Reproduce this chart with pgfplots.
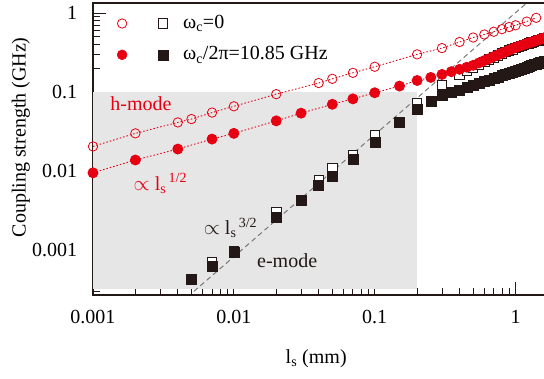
\documentclass[border=0pt]{standalone}
\usepackage{fontspec}
\setmainfont{Liberation Serif}
\usepackage{pgfplots}
\pgfplotsset{compat=1.18}
\definecolor{hred}{RGB}{230,0,18}
\definecolor{shade}{RGB}{230,230,230}
\definecolor{ink}{RGB}{35,24,21}
\definecolor{fitgray}{RGB}{120,120,120}

% h-mode, omega_c = 0
\pgfplotstableread{
x y
0.001 0.0205
0.002 0.030
0.004 0.0413
0.005 0.0455
0.007 0.055
0.01 0.066
0.02 0.094
0.04 0.130
0.05 0.147
0.07 0.175
0.1 0.209
0.2 0.300
0.3 0.360
0.4 0.430
0.5 0.490
0.6 0.535
0.7 0.580
0.8 0.625
0.9 0.665
1.0 0.700
1.2 0.780
1.4 0.870
}\hzero

% h-mode, omega_c/2pi = 10.85 GHz
\pgfplotstableread{
x y
0.001 0.0095
0.002 0.0138
0.004 0.019
0.007 0.0254
0.01 0.030
0.02 0.0432
0.03 0.054
0.05 0.070
0.07 0.082
0.1 0.098
0.15 0.119
0.2 0.140
0.25 0.153
0.3 0.167
0.35 0.181
0.4 0.194
0.45 0.206
0.5 0.218
0.55 0.234
0.6 0.250
0.65 0.265
0.7 0.281
0.75 0.295
0.8 0.310
0.85 0.325
0.9 0.339
0.95 0.353
1.0 0.367
1.05 0.378
1.1 0.389
1.15 0.399
1.2 0.410
1.25 0.420
1.3 0.429
1.35 0.439
1.4 0.449
1.45 0.459
1.5 0.468
1.55 0.477
1.6 0.487
}\hcav

% e-mode, omega_c = 0
\pgfplotstableread{
x y
0.007 0.00071
0.01 0.00097
0.02 0.0030
0.04 0.0077
0.05 0.0108
0.07 0.016
0.1 0.0286
0.2 0.073
0.3 0.123
0.4 0.164
0.45 0.184
0.5 0.203
0.55 0.222
0.6 0.240
0.65 0.258
0.7 0.275
0.75 0.291
0.8 0.307
0.85 0.321
0.9 0.335
0.95 0.348
1.0 0.360
1.05 0.372
1.1 0.383
1.15 0.394
1.2 0.404
1.25 0.414
1.3 0.424
1.35 0.433
1.4 0.442
1.45 0.451
1.5 0.459
1.55 0.467
1.6 0.475
}\ezero

% e-mode, omega_c/2pi = 10.85 GHz
\pgfplotstableread{
x y
0.005 0.00043
0.007 0.00062
0.01 0.00095
0.02 0.0026
0.03 0.0043
0.04 0.0067
0.05 0.0086
0.07 0.0141
0.1 0.0235
0.15 0.042
0.2 0.060
0.25 0.076
0.3 0.090
0.35 0.0987
0.4 0.107
0.45 0.115
0.5 0.122
0.55 0.130
0.6 0.136
0.65 0.143
0.7 0.150
0.75 0.156
0.8 0.162
0.85 0.168
0.9 0.174
0.95 0.180
1.0 0.185
1.05 0.191
1.1 0.196
1.15 0.202
1.2 0.207
1.25 0.212
1.3 0.217
1.35 0.222
1.4 0.227
1.45 0.232
1.5 0.236
1.55 0.241
1.6 0.246
}\ecav

\begin{document}
\fontsize{20}{24}\selectfont
\begin{tikzpicture}
\begin{axis}[
  at={(0,0)}, anchor=south west,
  scale only axis, width=465pt, height=292pt,
  xmode=log, ymode=log,
  xmin=0.001, xmax=2, ymin=0.00027, ymax=1.34,
  axis line style={line width=1.3pt, ink},
  xtick={0.001,0.01,0.1,1}, xticklabels={0.001,0.01,0.1,1},
  ytick={0.001,0.01,0.1,1}, yticklabels={0.001,0.01,0.1,1},
  minor xtick={0.002,0.003,0.004,0.005,0.006,0.007,0.008,0.009,
               0.02,0.03,0.04,0.05,0.06,0.07,0.08,0.09,
               0.2,0.3,0.4,0.5,0.6,0.7,0.8,0.9,2},
  minor ytick={0.0003,0.0004,0.0005,0.0006,0.0007,0.0008,0.0009,
               0.002,0.003,0.004,0.005,0.006,0.007,0.008,0.009,
               0.02,0.03,0.04,0.05,0.06,0.07,0.08,0.09,
               0.2,0.3,0.4,0.5,0.6,0.7,0.8,0.9},
  xtick pos=lower, ytick pos=left,
  tick align=inside,
  major tick length=13pt, minor tick length=7pt,
  every tick/.style={ink, line width=0.8pt},
  /pgf/number format/assume math mode=true,
  xticklabel style={yshift=-8pt},
  yticklabel style={xshift=-9pt},
  xlabel={l\textsubscript{s} (mm)},
  ylabel={Coupling strength (GHz)},
  xlabel style={at={(axis description cs:0.48,-0.219)}, anchor=center},
  ylabel style={at={(axis description cs:-0.155,0.54)}, anchor=center},
  legend columns=2,
  legend cell align=left,
  legend style={draw=none, fill=none, at={(rel axis cs:0.045,0.972)}, anchor=north west,
    row sep=11pt,
    /tikz/every odd column/.append style={column sep=13pt},
    /tikz/every even column/.append style={column sep=14pt}},
]
% shaded region
\addplot[fill=shade, draw=none, forget plot]
  coordinates {(0.001,0.00032) (0.2,0.00032) (0.2,0.1) (0.001,0.1)} -- cycle;
% l^{3/2} guide
\addplot[fitgray, line width=1pt, dash pattern=on 5pt off 3.5pt, forget plot]
  coordinates {(0.0052,0.0003) (1.2,1.34)};
% h-mode
\addplot[hred, line width=0.9pt, dash pattern=on 1.5pt off 2pt,
  mark=o, mark size=4.7pt, mark options={solid, line width=0.8pt}, forget plot]
  table {\hzero};
% e-mode
\addplot[only marks, mark=square*, mark size=4.7pt,
  mark options={draw=ink, fill=white, line width=0.9pt}, forget plot]
  table {\ezero};
\addplot[only marks, mark=square*, mark size=5pt,
  mark options={draw=ink, fill=ink}, forget plot]
  table {\ecav};
\addplot[hred, line width=0.9pt, dash pattern=on 1.5pt off 2pt,
  mark=*, mark size=5pt, mark options={solid}, forget plot]
  table {\hcav};

\addlegendimage{only marks, mark=o, hred, mark size=4.7pt, line width=0.8pt}
\addlegendentry{}
\addlegendimage{only marks, mark=square*, mark size=4.7pt, mark options={draw=ink, fill=white, line width=0.9pt}}
\addlegendentry{ω\textsubscript{c}=0}
\addlegendimage{only marks, mark=*, hred, mark size=5pt}
\addlegendentry{}
\addlegendimage{only marks, mark=square*, mark size=5pt, mark options={draw=ink, fill=ink}}
\addlegendentry{ω\textsubscript{c}/2π=10.85 GHz}

\node[hred] at (axis cs:0.00219,0.0705) {h-mode};
\node[hred, anchor=west] at (axis cs:0.00174,0.0070) {$\propto$ l\textsubscript{s}\textsuperscript{\,1/2}};
\node[ink, anchor=west] at (axis cs:0.00547,0.0019) {$\propto$ l\textsubscript{s}\textsuperscript{\,3/2}};
\node[ink] at (axis cs:0.0239,0.000726) {e-mode};
\end{axis}
\pgfresetboundingbox
\path[use as bounding box] (-93pt,-84pt) rectangle (451pt,295pt);
\end{tikzpicture}
\end{document}
